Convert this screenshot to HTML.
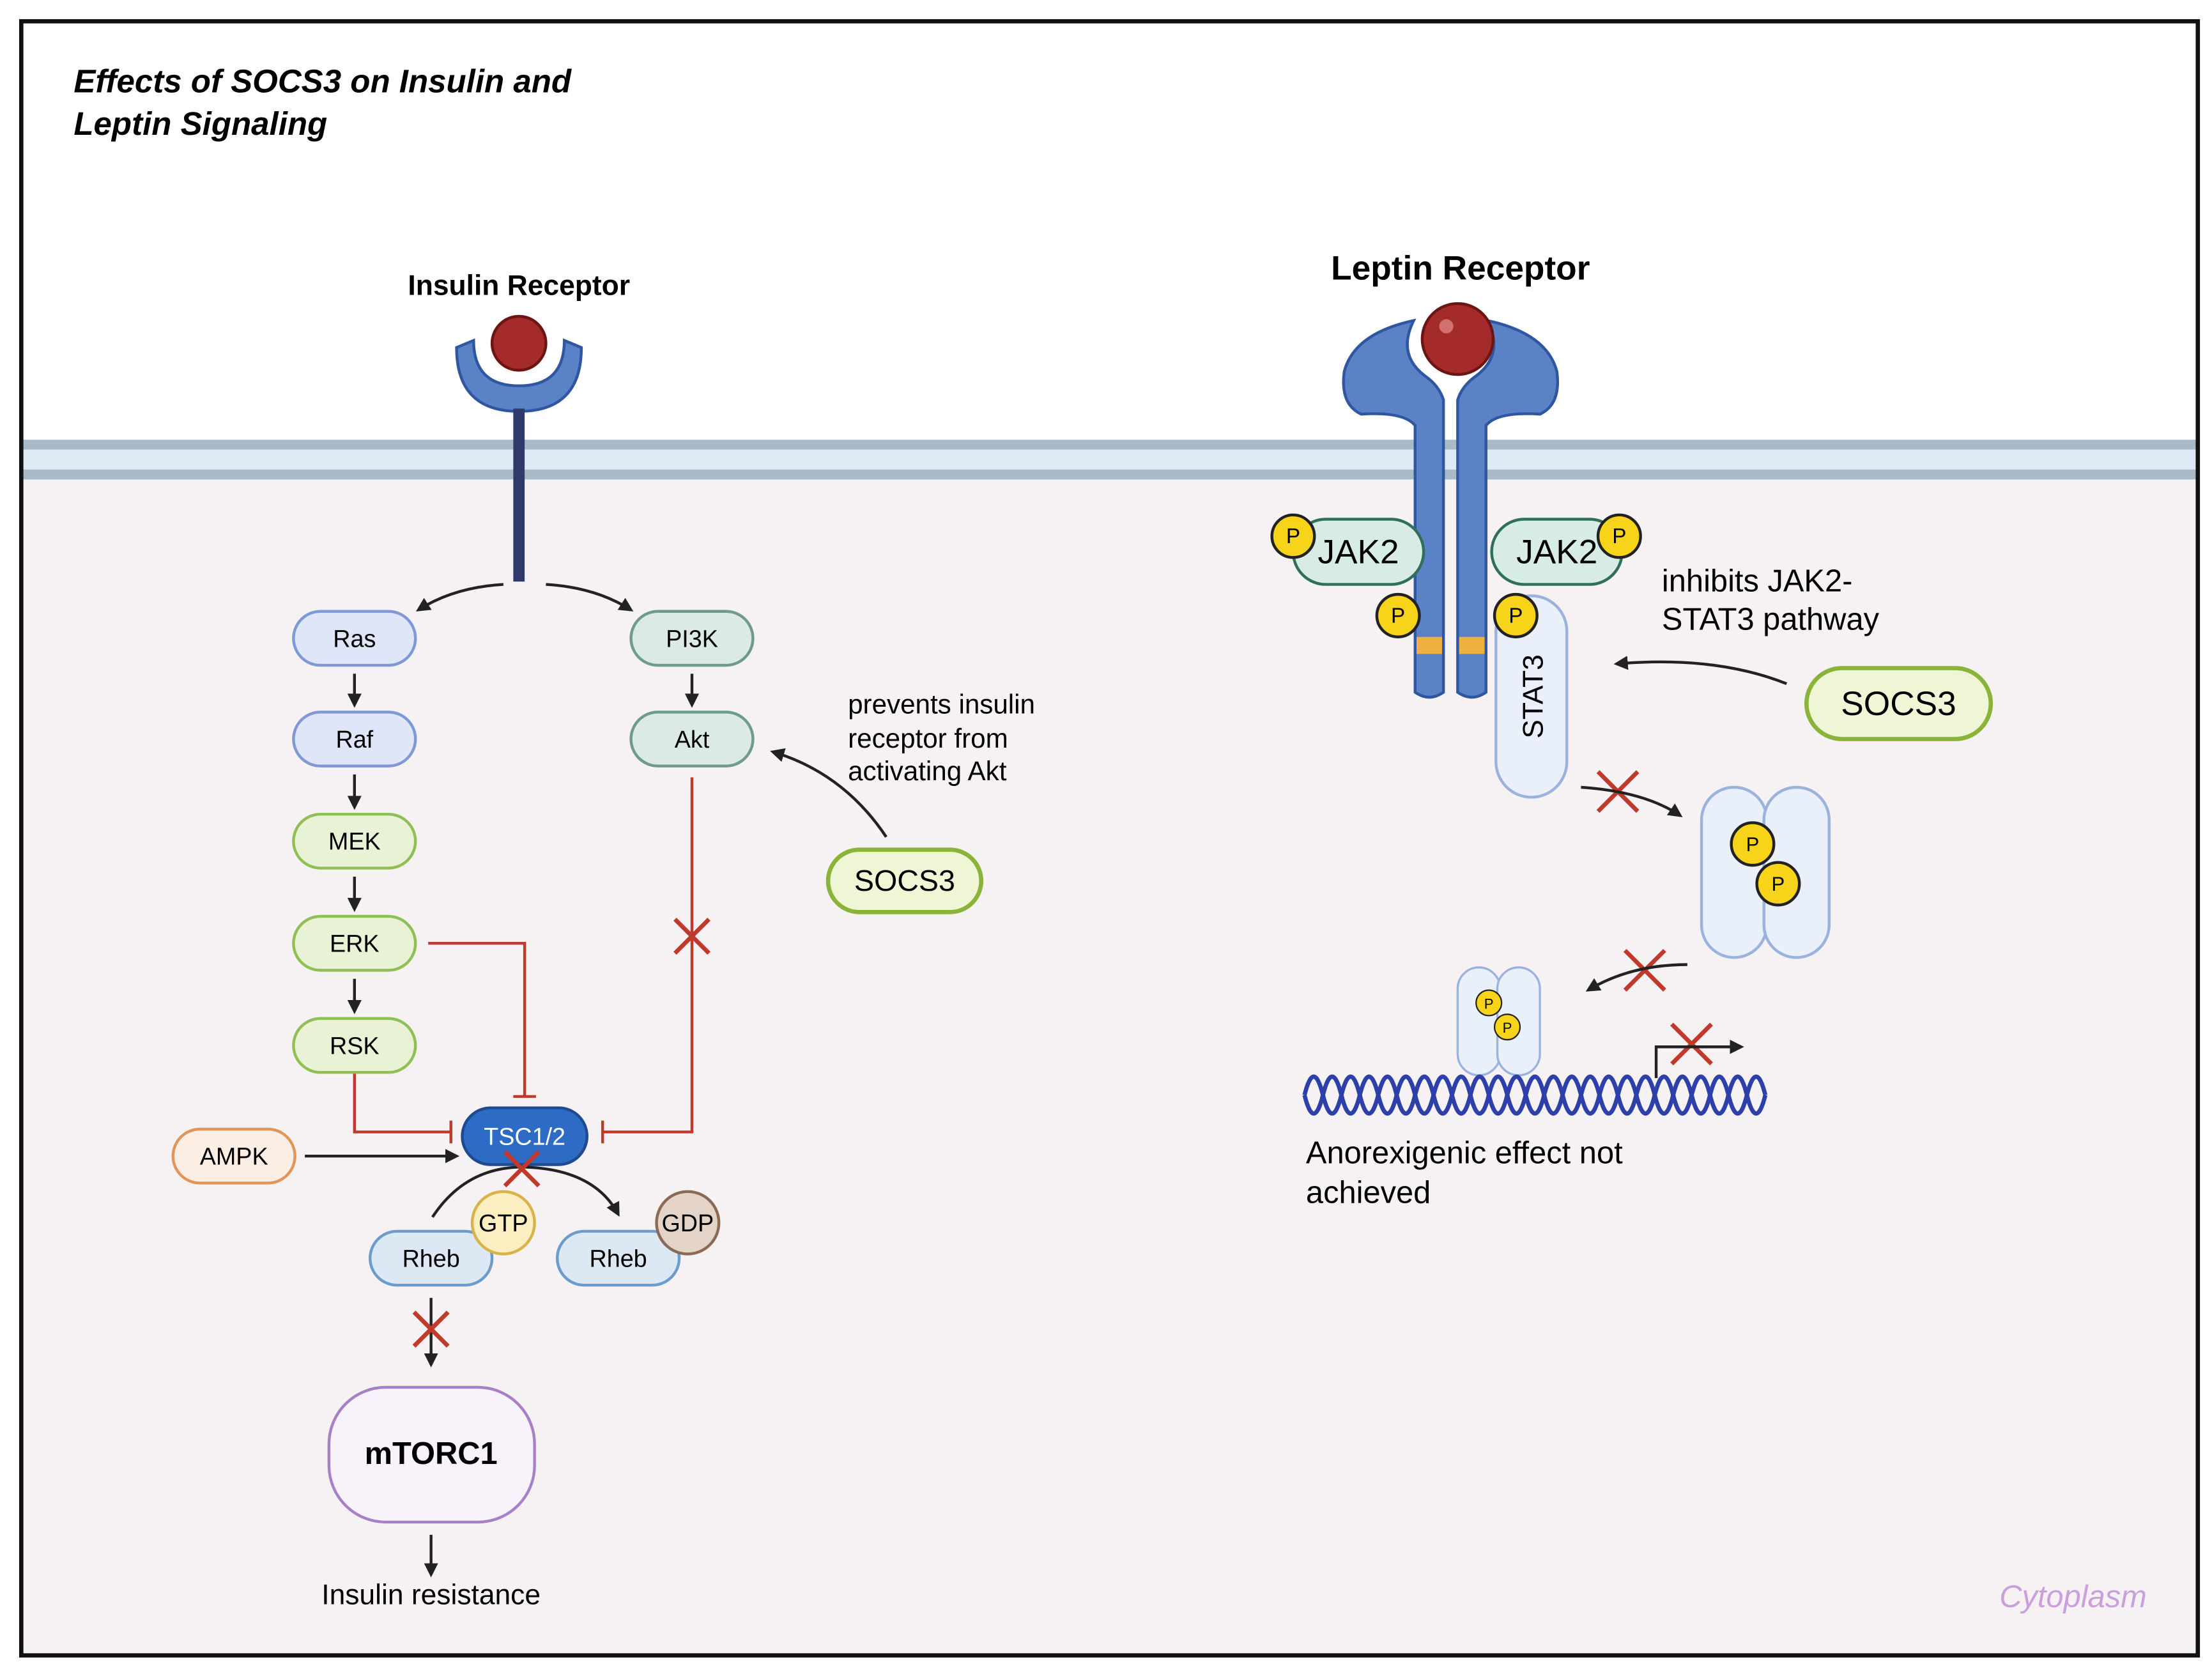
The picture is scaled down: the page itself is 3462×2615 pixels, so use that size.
<!DOCTYPE html>
<html><head><meta charset="utf-8"><style>html,body{margin:0;padding:0;background:#fff}svg{display:block}text{font-family:"Liberation Sans",sans-serif}</style></head><body>
<svg width="3462" height="2615" viewBox="0 0 1560 1178" preserveAspectRatio="none" xmlns="http://www.w3.org/2000/svg">
<defs>
<marker id="a" viewBox="0 0 10 10" refX="8" refY="5" markerWidth="5" markerHeight="5" orient="auto"><path d="M0,0L10,5L0,10z" fill="#222"/></marker>
</defs>
<rect x="0" y="0" width="1560" height="1178" fill="#fff"/>
<rect x="15" y="338" width="1535" height="829" fill="#f6f2f3"/>
<rect x="15" y="310" width="1535" height="7" fill="#a8bac8"/>
<rect x="15" y="317" width="1535" height="14" fill="#deebf7"/>
<rect x="15" y="331" width="1535" height="7" fill="#a8bac8"/>
<rect x="15" y="15" width="1535" height="1152" fill="none" stroke="#111" stroke-width="3"/>
<text x="52" y="65" font-size="23" font-weight="bold" font-style="italic">Effects of SOCS3 on Insulin and</text>
<text x="52" y="95" font-size="23" font-weight="bold" font-style="italic">Leptin Signaling</text>

<text x="366" y="208" font-size="20" font-weight="bold" text-anchor="middle">Insulin Receptor</text>
<path d="M322,245 Q322,290 366,290 Q410,290 410,245 L398,240 Q398,272 366,272 Q334,272 334,240 Z" fill="#5a82c6" stroke="#2f56a0" stroke-width="2"/>
<line x1="366" y1="288" x2="366" y2="410" stroke="#2f3a6b" stroke-width="8"/>
<circle cx="366" cy="242" r="19" fill="#a52a2a" stroke="#6b1515" stroke-width="2"/>
<path d="M355,412 Q320,414 295,430" fill="none" stroke="#222" stroke-width="2" marker-end="url(#a)"/>
<path d="M385,412 Q420,414 445,430" fill="none" stroke="#222" stroke-width="2" marker-end="url(#a)"/>

<g font-size="17" text-anchor="middle" stroke-width="2">
<rect x="207" y="431" width="86" height="38" rx="19" fill="#dfe6f7" stroke="#7f98d6"/><text x="250" y="456">Ras</text>
<rect x="207" y="502" width="86" height="38" rx="19" fill="#dfe6f7" stroke="#7f98d6"/><text x="250" y="527">Raf</text>
<rect x="207" y="574" width="86" height="38" rx="19" fill="#e8f3d6" stroke="#8fbf55"/><text x="250" y="599">MEK</text>
<rect x="207" y="646" width="86" height="38" rx="19" fill="#e8f3d6" stroke="#8fbf55"/><text x="250" y="671">ERK</text>
<rect x="207" y="718" width="86" height="38" rx="19" fill="#e8f3d6" stroke="#8fbf55"/><text x="250" y="743">RSK</text>
<rect x="445" y="431" width="86" height="38" rx="19" fill="#dceae6" stroke="#6f9a8e"/><text x="488" y="456">PI3K</text>
<rect x="445" y="502" width="86" height="38" rx="19" fill="#dceae6" stroke="#6f9a8e"/><text x="488" y="527">Akt</text>
<rect x="122" y="796" width="86" height="38" rx="19" fill="#fdeee3" stroke="#e0965a"/><text x="165" y="821">AMPK</text>
<rect x="326" y="781" width="88" height="40" rx="20" fill="#2e6bc4" stroke="#1d4a90"/><text x="370" y="807" fill="#fff">TSC1/2</text>
<rect x="261" y="868" width="86" height="38" rx="19" fill="#dce9f5" stroke="#6d9bcc"/><text x="304" y="893">Rheb</text>
<rect x="393" y="868" width="86" height="38" rx="19" fill="#dce9f5" stroke="#6d9bcc"/><text x="436" y="893">Rheb</text>
<circle cx="355" cy="862" r="22" fill="#fbeec0" stroke="#d9b24a"/><text x="355" y="868">GTP</text>
<circle cx="485" cy="862" r="22" fill="#e4d4c8" stroke="#8a6a55"/><text x="485" y="868">GDP</text>
</g>
<g stroke="#222" stroke-width="2" marker-end="url(#a)">
<line x1="250" y1="475" x2="250" y2="497"/><line x1="250" y1="546" x2="250" y2="569"/><line x1="250" y1="618" x2="250" y2="641"/><line x1="250" y1="690" x2="250" y2="713"/>
<line x1="488" y1="475" x2="488" y2="497"/>
<line x1="215" y1="815" x2="322" y2="815"/>
<line x1="304" y1="915" x2="304" y2="962"/>
<line x1="304" y1="1082" x2="304" y2="1110"/>
</g>
<path d="M305,858 Q330,820 375,823 Q420,826 436,856" fill="none" stroke="#222" stroke-width="2" marker-end="url(#a)"/>
<g fill="none" stroke="#c0392b" stroke-width="2">
<path d="M302,665 H370 V773"/><line x1="362" y1="773" x2="378" y2="773"/>
<path d="M250,757 V798 H318"/><line x1="318" y1="790" x2="318" y2="806"/>
<path d="M488,548 V798 H425"/><line x1="425" y1="790" x2="425" y2="806"/>
</g>
<g stroke="#c0392b" stroke-width="3">
<path d="M476,648 L500,672 M500,648 L476,672"/>
<path d="M356,812 L380,836 M380,812 L356,836"/>
<path d="M292,925 L316,949 M316,925 L292,949"/>
<path d="M1127,544 L1155,572 M1155,544 L1127,572"/>
<path d="M1146,670 L1174,698 M1174,670 L1146,698"/>
<path d="M1179,722 L1207,750 M1207,722 L1179,750"/>
</g>
<rect x="232" y="978" width="145" height="95" rx="40" fill="#f8f3fa" stroke="#a880c8" stroke-width="2"/>
<text x="304" y="1032" font-size="22" font-weight="bold" text-anchor="middle">mTORC1</text>
<text x="304" y="1131" font-size="20" text-anchor="middle">Insulin resistance</text>
<rect x="584" y="599" width="108" height="44" rx="22" fill="#eef6d6" stroke="#8ab33a" stroke-width="3"/>
<text x="638" y="628" font-size="21" text-anchor="middle">SOCS3</text>
<text font-size="19"><tspan x="598" y="503">prevents insulin</tspan><tspan x="598" y="527">receptor from</tspan><tspan x="598" y="550">activating Akt</tspan></text>
<path d="M625,590 Q595,545 545,530" fill="none" stroke="#222" stroke-width="2" marker-end="url(#a)"/>

<text x="1030" y="197" font-size="24" font-weight="bold" text-anchor="middle">Leptin Receptor</text>
<path d="M998,488 V300 Q990,290 960,292 Q945,285 948,262 Q955,235 997,226 Q985,250 1005,265 Q1015,272 1018,282 V488 Q1008,495 998,488 Z" fill="#5b82c6" stroke="#2f56a0" stroke-width="2"/>
<path d="M1048,488 V300 Q1056,290 1086,292 Q1101,285 1098,262 Q1091,235 1049,226 Q1061,250 1041,265 Q1031,272 1028,282 V488 Q1038,495 1048,488 Z" fill="#5b82c6" stroke="#2f56a0" stroke-width="2"/>
<rect x="999" y="449" width="18" height="12" fill="#f0b040"/><rect x="1029" y="449" width="18" height="12" fill="#f0b040"/>
<circle cx="1028" cy="239" r="25" fill="#a52a2a" stroke="#6b1515" stroke-width="2"/>
<circle cx="1020" cy="230" r="5" fill="#d07070"/>
<rect x="1055" y="420" width="50" height="142" rx="25" fill="#e9f0fa" stroke="#9ab2dd" stroke-width="2"/>
<text transform="translate(1088,491) rotate(-90)" font-size="20" text-anchor="middle">STAT3</text>
<rect x="912" y="366" width="92" height="46" rx="23" fill="#d8ece6" stroke="#2f6f5c" stroke-width="2"/>
<rect x="1052" y="366" width="92" height="46" rx="23" fill="#d8ece6" stroke="#2f6f5c" stroke-width="2"/>
<text x="958" y="397" font-size="24" text-anchor="middle">JAK2</text>
<text x="1098" y="397" font-size="24" text-anchor="middle">JAK2</text>
<g fill="#f7d31a" stroke="#222" stroke-width="2">
<circle cx="912" cy="378" r="15"/><circle cx="1142" cy="378" r="15"/><circle cx="986" cy="434" r="15"/><circle cx="1069" cy="434" r="15"/>
</g>
<g font-size="15" text-anchor="middle"><text x="912" y="383">P</text><text x="1142" y="383">P</text><text x="986" y="439">P</text><text x="1069" y="439">P</text></g>
<rect x="1274" y="471" width="130" height="50" rx="25" fill="#eef6d6" stroke="#8ab33a" stroke-width="3"/>
<text x="1339" y="504" font-size="24" text-anchor="middle">SOCS3</text>
<text font-size="22"><tspan x="1172" y="417">inhibits JAK2-</tspan><tspan x="1172" y="444">STAT3 pathway</tspan></text>
<path d="M1260,482 Q1210,462 1140,468" fill="none" stroke="#222" stroke-width="2" marker-end="url(#a)"/>
<path d="M1115,555 Q1160,558 1185,575" fill="none" stroke="#222" stroke-width="2" marker-end="url(#a)"/>
<rect x="1200" y="555" width="46" height="120" rx="23" fill="#e9f0fa" stroke="#9ab2dd" stroke-width="2"/>
<rect x="1244" y="555" width="46" height="120" rx="23" fill="#e9f0fa" stroke="#9ab2dd" stroke-width="2"/>
<circle cx="1236" cy="595" r="15" fill="#f7d31a" stroke="#222" stroke-width="2"/><circle cx="1254" cy="623" r="15" fill="#f7d31a" stroke="#222" stroke-width="2"/>
<text x="1236" y="600" font-size="14" text-anchor="middle">P</text><text x="1254" y="628" font-size="14" text-anchor="middle">P</text>
<path d="M1190,680 Q1150,680 1120,698" fill="none" stroke="#222" stroke-width="2" marker-end="url(#a)"/>
<rect x="1028" y="682" width="30" height="76" rx="15" fill="#e9f0fa" stroke="#9ab2dd" stroke-width="1.5"/>
<rect x="1056" y="682" width="30" height="76" rx="15" fill="#e9f0fa" stroke="#9ab2dd" stroke-width="1.5"/>
<circle cx="1050" cy="707" r="9" fill="#f7d31a" stroke="#222"/><circle cx="1063" cy="724" r="9" fill="#f7d31a" stroke="#222"/>
<text x="1050" y="711" font-size="10" text-anchor="middle">P</text><text x="1063" y="728" font-size="10" text-anchor="middle">P</text>
<g fill="none" stroke="#2d3fa8" stroke-width="3">
<path d="M920,772 q6.5,-26 13,0 t13,0 t13,0 t13,0 t13,0 t13,0 t13,0 t13,0 t13,0 t13,0 t13,0 t13,0 t13,0 t13,0 t13,0 t13,0 t13,0 t13,0 t13,0 t13,0 t13,0 t13,0 t13,0 t13,0 t13,0"/>
<path d="M920,772 q6.5,26 13,0 t13,0 t13,0 t13,0 t13,0 t13,0 t13,0 t13,0 t13,0 t13,0 t13,0 t13,0 t13,0 t13,0 t13,0 t13,0 t13,0 t13,0 t13,0 t13,0 t13,0 t13,0 t13,0 t13,0 t13,0"/>
</g>
<path d="M1168,760 V738 H1228" fill="none" stroke="#222" stroke-width="2" marker-end="url(#a)"/>
<text font-size="22"><tspan x="921" y="820">Anorexigenic effect not</tspan><tspan x="921" y="848">achieved</tspan></text>
<text x="1462" y="1133" font-size="22" font-style="italic" fill="#c9a0dc" text-anchor="middle">Cytoplasm</text>
</svg>
</body></html>
